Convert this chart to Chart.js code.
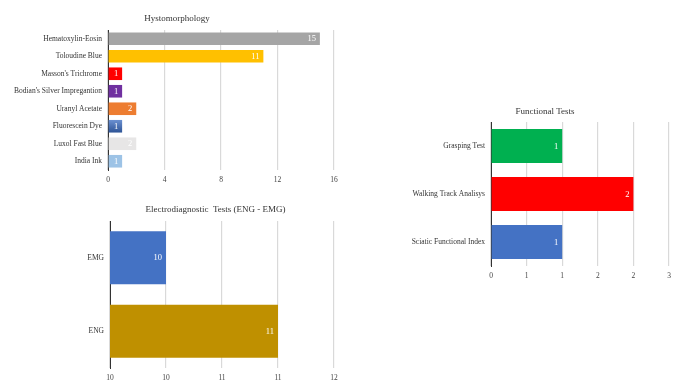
<!DOCTYPE html>
<html>
<head>
<meta charset="utf-8">
<script src="https://cdn.jsdelivr.net/npm/chart.js@4/dist/chart.umd.min.js"></script>
<style>
  body { margin: 0; background: #fff; width: 677px; height: 381px; position: relative; overflow: hidden; }
  canvas { position: absolute; }
</style>
</head>
<body>
<canvas id="histo" width="350" height="190" style="left:0;top:0"></canvas>
<canvas id="electro" width="350" height="191" style="left:0;top:190px"></canvas>
<canvas id="func" width="297" height="200" style="left:380px;top:90px"></canvas>
<script>
const histoLabels = ['Hematoxylin-Eosin', 'Toloudine Blue', "Masson's Trichrome", "Bodian's Silver Impregantion",
  'Uranyl Acetate', 'Fluorescein Dye', 'Luxol Fast Blue', 'India Ink'];
const histoValues = [15, 11, 1, 1, 2, 1, 2, 1];
const histoColors = ['#a5a5a5', '#ffc000', '#ff0000', '#7030a0', '#ed7d31', 'gradient', '#e7e6e6', '#9dc3e6'];

const electroLabels = ['EMG', 'ENG'];
const electroValues = [10, 11];
const electroColors = ['#4472c4', '#bf9000'];

const funcLabels = ['Grasping Test', 'Walking Track Analisys', 'Sciatic Functional Index'];
const funcValues = [1, 2, 1];
const funcColors = ['#00b050', '#ff0000', '#4472c4'];

const FONT = 'Liberation Serif';

// white value text just inside the end of each bar
const barValues = {
  id: 'barValues',
  afterDatasetsDraw(chart) {
    const ctx = chart.ctx;
    const meta = chart.getDatasetMeta(0);
    ctx.save();
    ctx.fillStyle = '#ffffff';
    ctx.font = '8.5px "' + FONT + '"';
    ctx.textAlign = 'right';
    ctx.textBaseline = 'middle';
    meta.data.forEach((bar, i) => {
      ctx.fillText(chart.data.datasets[0].data[i], bar.x - 4, bar.y + 0.5);
    });
    ctx.restore();
  }
};

// chart title, placed where the original had it (not centred on the canvas)
const sideTitle = {
  id: 'sideTitle',
  afterDraw(chart, args, o) {
    const ctx = chart.ctx;
    ctx.save();
    ctx.fillStyle = '#333';
    ctx.font = '9px "' + FONT + '"';
    ctx.textAlign = 'center';
    ctx.textBaseline = 'middle';
    ctx.fillText(o.text, o.x, o.y);
    ctx.restore();
  }
};

function makeChart(id, labels, values, colors, opts) {
  new Chart(document.getElementById(id), {
    type: 'bar',
    data: {
      labels: labels,
      datasets: [{
        data: values,
        backgroundColor: colors,
        barPercentage: opts.barPct,
        categoryPercentage: 1
      }]
    },
    plugins: [barValues, sideTitle],
    options: {
      indexAxis: 'y',
      responsive: false,
      animation: false,
      layout: { padding: { left: 0, top: opts.padTop, right: opts.padRight, bottom: opts.padBottom } },
      plugins: {
        legend: { display: false },
        tooltip: { enabled: false },
        sideTitle: { text: opts.title, x: opts.titleX, y: opts.titleY }
      },
      scales: {
        x: {
          min: opts.min,
          max: opts.max,
          ticks: {
            stepSize: opts.step,
            color: '#444',
            padding: 6,
            font: { family: FONT, size: 7.5 },
            callback: (v) => Math.round(v)
          },
          grid: { color: '#d9d9d9', lineWidth: 1.2, drawTicks: false },
          border: { display: false },
          afterFit: (s) => { s.height = opts.axisH; }
        },
        y: {
          ticks: { color: '#333', padding: 6, font: { family: FONT, size: 7.5 } },
          grid: { display: false, drawTicks: false },
          border: { display: true, color: '#333', width: 1 },
          afterFit: (s) => { s.width = opts.yWidth; }
        }
      }
    }
  });
}

makeChart('histo', histoLabels, histoValues, function (c) {
  const col = histoColors[c.dataIndex];
  if (col !== 'gradient') return col;
  const yScale = c.chart.scales && c.chart.scales.y;
  const cy = yScale ? yScale.getPixelForValue(c.dataIndex) : NaN;
  if (!Number.isFinite(cy)) return '#4472c4';
  const g = c.chart.ctx.createLinearGradient(0, cy - 6, 0, cy + 6);
  g.addColorStop(0, '#6a8fd0');
  g.addColorStop(1, '#2f5597');
  return g;
}, {
  title: 'Hystomorphology', titleX: 177, titleY: 19,
  min: 0, max: 16, step: 4, barPct: 0.72,
  yWidth: 108, padTop: 30, padRight: 16, padBottom: 4, axisH: 16
});

makeChart('electro', electroLabels, electroValues, electroColors, {
  title: 'Electrodiagnostic  Tests (ENG - EMG)', titleX: 215.5, titleY: 20,
  min: 9.5, max: 11.5, step: 0.5, barPct: 0.72,
  yWidth: 110, padTop: 31, padRight: 16, padBottom: 0, axisH: 13
});

makeChart('func', funcLabels, funcValues, funcColors, {
  title: 'Functional Tests', titleX: 165, titleY: 22,
  min: 0, max: 2.5, step: 0.5, barPct: 0.71,
  yWidth: 111, padTop: 32, padRight: 8, padBottom: 8, axisH: 16
});
</script>
</body>
</html>
